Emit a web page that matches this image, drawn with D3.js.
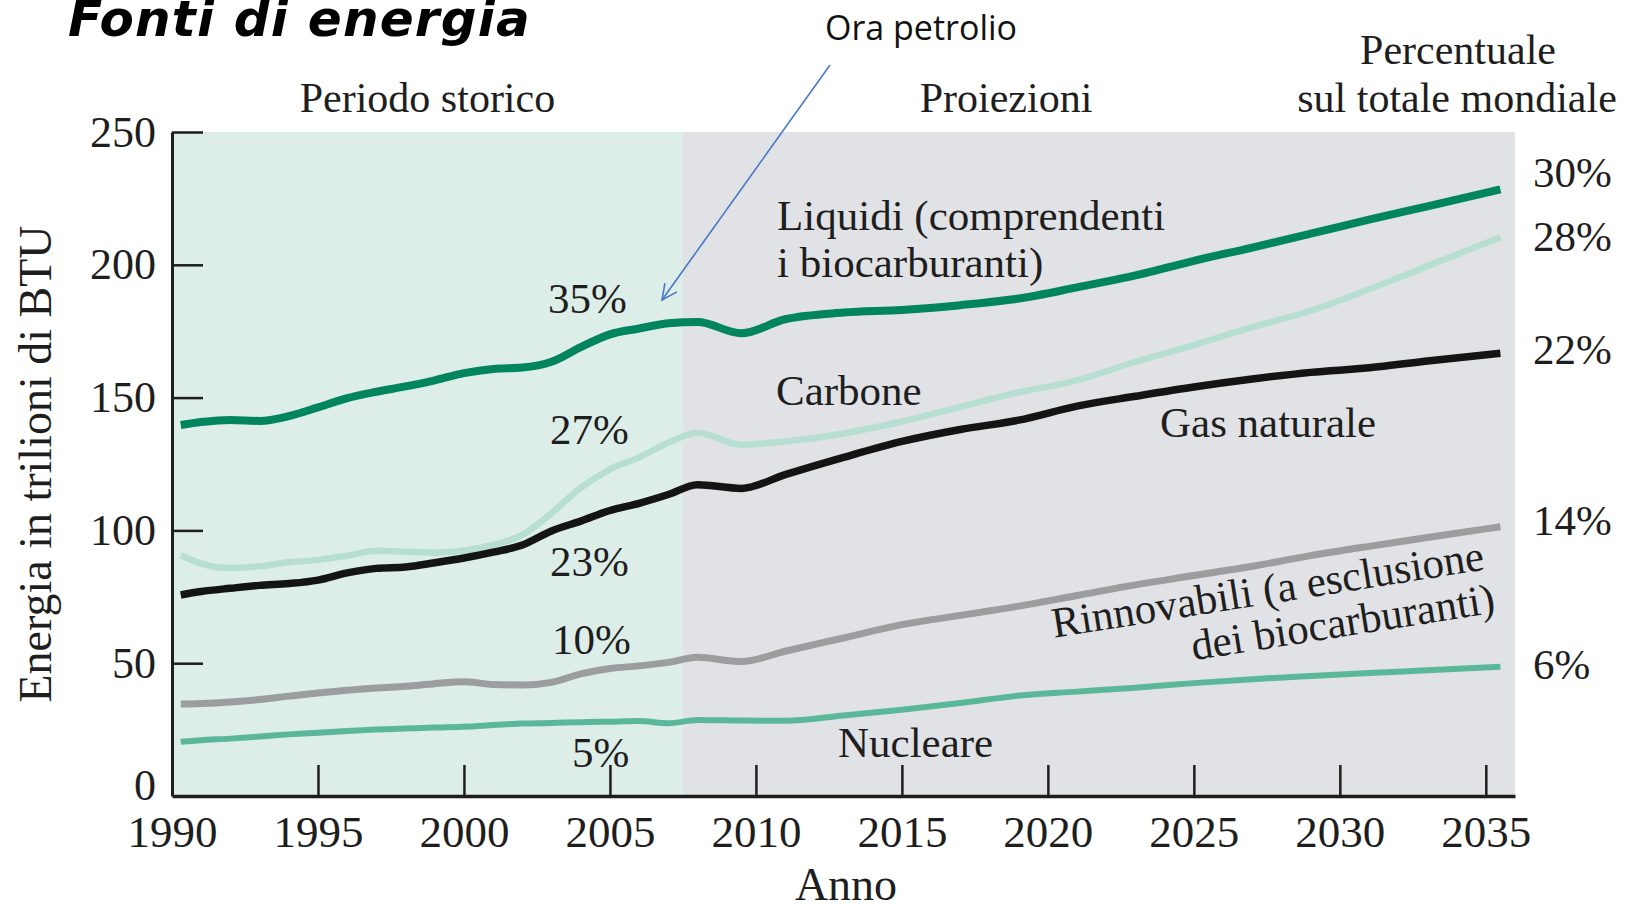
<!DOCTYPE html>
<html>
<head>
<meta charset="utf-8">
<script src="https://cdn.jsdelivr.net/npm/d3@7"></script>
<style>
  html, body { margin: 0; padding: 0; background: #ffffff; }
  svg { display: block; }
</style>
</head>
<body>
<svg id="chart" width="1627" height="910"></svg>
<script>
// ---------------- DATA ----------------
const years = [1990.3, 1991, 1992, 1993, 1994, 1995, 1996, 1997, 1998, 1999, 2000, 2001, 2002, 2003, 2004, 2005, 2006, 2007, 2008, 2009.5, 2011, 2013, 2015, 2017, 2019, 2021, 2023, 2025, 2027, 2029, 2031, 2033, 2035.5];

const liquidi     = [139.7, 140.8, 141.6, 141.2, 143.0, 146.3, 149.8, 152.2, 154.2, 156.5, 159.2, 160.8, 161.3, 163.5, 169.0, 173.8, 176.0, 178.0, 178.5, 174.2, 179.5, 182.0, 183.0, 184.8, 187.3, 191.5, 196.0, 201.5, 206.5, 211.7, 217.0, 222.0, 228.4];
const carbone     = [90.7, 87.5, 85.8, 86.5, 88.0, 88.9, 90.5, 92.3, 92.0, 91.6, 92.4, 94.5, 98.3, 106.5, 116.0, 123.0, 127.5, 133.0, 136.8, 132.2, 133.5, 136.5, 141.0, 146.5, 152.0, 156.5, 163.5, 169.8, 176.5, 182.7, 190.8, 199.5, 210.4];
const gasNaturale = [75.7, 77.0, 78.2, 79.3, 80.0, 81.3, 84.0, 85.7, 86.2, 87.8, 89.6, 91.8, 94.5, 99.8, 103.5, 107.5, 110.2, 113.5, 117.2, 115.8, 121.0, 127.5, 133.5, 138.0, 141.5, 146.8, 150.5, 154.0, 157.0, 159.5, 161.2, 163.8, 166.7];
const rinnovabili = [34.6, 34.8, 35.4, 36.3, 37.6, 38.8, 39.8, 40.7, 41.3, 42.3, 43.0, 42.0, 41.8, 42.8, 46.0, 48.0, 49.0, 50.3, 52.2, 50.6, 54.5, 59.5, 64.5, 68.0, 71.5, 75.5, 79.5, 83.0, 86.5, 90.5, 94.0, 97.3, 101.4];
const nucleare    = [20.4, 21.0, 21.6, 22.4, 23.2, 23.8, 24.5, 25.0, 25.4, 25.8, 26.1, 26.7, 27.3, 27.5, 27.8, 28.0, 28.2, 27.4, 28.6, 28.4, 28.3, 30.3, 32.5, 35.0, 37.8, 39.3, 40.8, 42.5, 44.0, 45.2, 46.3, 47.3, 48.7];

const xTicks = [1990, 1995, 2000, 2005, 2010, 2015, 2020, 2025, 2030, 2035];
const yTicks = [0, 50, 100, 150, 200, 250];
const xDomain = [1990, 2036];
const yDomain = [0, 250];
const historicalEnd = 2007.5;

const sharesStart = ["35%", "27%", "23%", "10%", "5%"];
const sharesEnd   = ["30%", "28%", "22%", "14%", "6%"];

// ---------------- LAYOUT ----------------
const svg = d3.select("#chart");
const serif = "'Liberation Serif', 'Times New Roman', serif";
const ink = "#1e1e1e";

const x = d3.scaleLinear().domain(xDomain).range([172, 1515]);
const y = d3.scaleLinear().domain(yDomain).range([796, 132]);

// backgrounds
svg.append("rect")
  .attr("x", x(xDomain[0])).attr("y", y(yDomain[1]))
  .attr("width", x(historicalEnd) - x(xDomain[0]))
  .attr("height", y(0) - y(yDomain[1]))
  .attr("fill", "#ddede8");
svg.append("rect")
  .attr("x", x(historicalEnd)).attr("y", y(yDomain[1]))
  .attr("width", x(xDomain[1]) - x(historicalEnd))
  .attr("height", y(0) - y(yDomain[1]))
  .attr("fill", "#e1e2e5");

// series
const series = [
  { name: "Nucleare",    values: nucleare,    color: "#5bb79a", width: 6 },
  { name: "Rinnovabili", values: rinnovabili, color: "#9b9d9f", width: 7 },
  { name: "Carbone",     values: carbone,     color: "#b7dfd1", width: 6.5 },
  { name: "Gas",         values: gasNaturale, color: "#141414", width: 7.5 },
  { name: "Liquidi",     values: liquidi,     color: "#00855f", width: 8 }
];

const line = d3.line()
  .x((d, i) => x(years[i]))
  .y(d => y(d))
  .curve(d3.curveMonotoneX);

svg.append("g").selectAll("path")
  .data(series)
  .join("path")
  .attr("d", d => line(d.values))
  .attr("fill", "none")
  .attr("stroke", d => d.color)
  .attr("stroke-width", d => d.width)
  .attr("stroke-linejoin", "round")
  .attr("stroke-linecap", "butt");

// axes
const yAxis = d3.axisLeft(y).tickValues(yTicks).tickSizeInner(-31).tickSizeOuter(0).tickPadding(16);
const gy = svg.append("g").attr("transform", `translate(${x(xDomain[0])},0)`).call(yAxis);
gy.select(".domain").attr("stroke", ink).attr("stroke-width", 3);
gy.selectAll(".tick line").attr("stroke", ink).attr("stroke-width", 2.5);
gy.selectAll(".tick text")
  .attr("font-family", serif).attr("font-size", 44).attr("fill", ink)
  .attr("dy", "0.32em");
gy.selectAll(".tick").filter(d => d === 0).select("text").attr("y", -11);

const xAxis = d3.axisBottom(x).tickValues(xTicks).tickFormat(d3.format("d")).tickSizeInner(-31).tickSizeOuter(0);
const gx = svg.append("g").attr("transform", `translate(0,${y(0)})`).call(xAxis);
gx.select(".domain").attr("stroke", ink).attr("stroke-width", 3.5);
gx.selectAll(".tick line").attr("stroke", ink).attr("stroke-width", 2.5);
gx.selectAll(".tick text")
  .attr("font-family", serif).attr("font-size", 45).attr("fill", ink)
  .attr("y", 51).attr("dy", null);
gx.selectAll(".tick").filter(d => d === 1990).select("line").remove();
gy.selectAll(".tick").filter(d => d === 0).select("line").remove();

// axis titles
svg.append("text")
  .attr("x", 846).attr("y", 900)
  .attr("text-anchor", "middle")
  .attr("font-family", serif).attr("font-size", 46).attr("fill", ink)
  .text("Anno");
svg.append("text")
  .attr("transform", `translate(51,${(y(0) + y(250)) / 2}) rotate(-90)`)
  .attr("text-anchor", "middle")
  .attr("font-family", serif).attr("font-size", 46).attr("fill", ink)
  .text("Energia in trilioni di BTU");

// title
svg.append("text")
  .attr("x", 68).attr("y", 36)
  .attr("font-family", "'DejaVu Sans', Verdana, sans-serif")
  .attr("font-size", 50).attr("font-weight", "bold").attr("font-style", "italic")
  .attr("letter-spacing", 1.2)
  .attr("fill", "#000")
  .text("Fonti di energia");

// header labels
function label(txt, px, py, anchor, size) {
  return svg.append("text")
    .attr("x", px).attr("y", py)
    .attr("text-anchor", anchor || "start")
    .attr("font-family", serif).attr("font-size", size || 43).attr("fill", ink)
    .text(txt);
}
label("Periodo storico", (x(xDomain[0]) + x(historicalEnd)) / 2, 112, "middle", 42);
label("Proiezioni", 1006, 112, "middle", 42);
label("Percentuale", 1458, 64, "middle", 42);
label("sul totale mondiale", 1457, 112, "middle", 42);

// series labels
label("Liquidi (comprendenti", 777, 230);
label("i biocarburanti)", 777, 277);
label("Carbone", 776, 405);
label("Gas naturale", 1160, 437);
label("Nucleare", 838, 757);

const rg = svg.append("g").attr("transform", "translate(1053,638) rotate(-9)");
rg.append("text").attr("x", 438).attr("y", 0).attr("text-anchor", "end")
  .attr("font-family", serif).attr("font-size", 43).attr("fill", ink)
  .text("Rinnovabili (a esclusione");
rg.append("text").attr("x", 442).attr("y", 44).attr("text-anchor", "end")
  .attr("font-family", serif).attr("font-size", 43).attr("fill", ink)
  .text("dei biocarburanti)");

// share labels (start of projections)
const startPos = [[548, 313], [550, 444], [550, 576], [552, 654], [572, 767]];
sharesStart.forEach((s, i) => label(s, startPos[i][0], startPos[i][1], "start", 43));
// share labels (right side)
const endY = [187, 251, 364, 535, 679];
sharesEnd.forEach((s, i) => label(s, 1533, endY[i], "start", 43));

// annotation "Ora petrolio"
svg.append("text")
  .attr("x", 921).attr("y", 40)
  .attr("text-anchor", "middle")
  .attr("font-family", "'Open Sans', 'Noto Sans', sans-serif")
  .attr("font-size", 34).attr("fill", "#111")
  .text("Ora petrolio");

const a0 = [830, 65], a1 = [662, 300];
const arrowColor = "#4a78c8";
svg.append("line")
  .attr("x1", a0[0]).attr("y1", a0[1]).attr("x2", a1[0]).attr("y2", a1[1])
  .attr("stroke", arrowColor).attr("stroke-width", 1.6);
const ang = Math.atan2(a1[1] - a0[1], a1[0] - a0[0]);
const headLen = 17, spread = 0.45;
const hp = [
  [a1[0] - headLen * Math.cos(ang - spread), a1[1] - headLen * Math.sin(ang - spread)],
  a1,
  [a1[0] - headLen * Math.cos(ang + spread), a1[1] - headLen * Math.sin(ang + spread)]
];
svg.append("path")
  .attr("d", d3.line()(hp))
  .attr("fill", "none").attr("stroke", arrowColor).attr("stroke-width", 1.6);
</script>
</body>
</html>
